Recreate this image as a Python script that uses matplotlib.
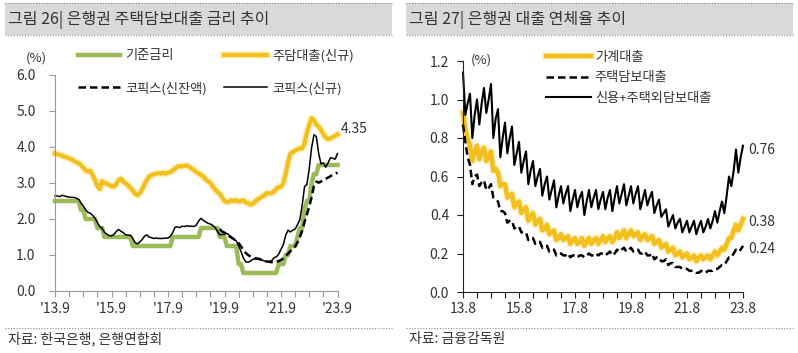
import matplotlib
matplotlib.use("Agg")
import matplotlib.pyplot as plt
import matplotlib.patheffects as pe
from matplotlib.lines import Line2D
from matplotlib.patches import Rectangle

plt.rcParams['font.family'] = ['Noto Sans CJK KR', 'DejaVu Sans']

W, H = 798, 353

# ---- left panel: 은행권 주택담보대출 금리 (monthly, 2013.9 -> 2023.9) ----
base_rate = [
    2.5, 2.5, 2.5, 2.5,
    2.5, 2.5, 2.5, 2.5, 2.5, 2.5, 2.5, 2.25, 2.25, 2.0, 2.0, 2.0,
    2.0, 2.0, 1.75, 1.75, 1.75, 1.5, 1.5, 1.5, 1.5, 1.5, 1.5, 1.5,
    1.5, 1.5, 1.5, 1.5, 1.5, 1.25, 1.25, 1.25, 1.25, 1.25, 1.25, 1.25,
    1.25, 1.25, 1.25, 1.25, 1.25, 1.25, 1.25, 1.25, 1.25, 1.25, 1.5, 1.5,
    1.5, 1.5, 1.5, 1.5, 1.5, 1.5, 1.5, 1.5, 1.5, 1.5, 1.75, 1.75,
    1.75, 1.75, 1.75, 1.75, 1.75, 1.75, 1.5, 1.5, 1.5, 1.25, 1.25, 1.25,
    1.25, 1.25, 0.75, 0.75, 0.5, 0.5, 0.5, 0.5, 0.5, 0.5, 0.5, 0.5,
    0.5, 0.5, 0.5, 0.5, 0.5, 0.5, 0.5, 0.75, 0.75, 0.75, 1.0, 1.0,
    1.25, 1.25, 1.25, 1.5, 1.75, 1.75, 2.25, 2.5, 2.5, 3.0, 3.25, 3.25,
    3.5, 3.5, 3.5, 3.5, 3.5, 3.5, 3.5, 3.5, 3.5,
]
mortgage_new = [
    3.82, 3.80, 3.78, 3.76,
    3.72, 3.72, 3.68, 3.66, 3.62, 3.58, 3.55, 3.50, 3.42, 3.36, 3.32, 3.34,
    3.22, 3.08, 2.92, 2.83, 3.05, 3.00, 2.98, 2.94, 2.91, 2.90, 2.96, 3.08,
    3.12, 3.04, 2.99, 2.94, 2.86, 2.80, 2.70, 2.66, 2.72, 2.82, 2.96, 3.08,
    3.18, 3.22, 3.24, 3.26, 3.27, 3.26, 3.29, 3.26, 3.29, 3.30, 3.35, 3.40,
    3.45, 3.47, 3.46, 3.48, 3.49, 3.45, 3.40, 3.36, 3.30, 3.27, 3.22, 3.18,
    3.10, 3.05, 3.00, 2.90, 2.82, 2.76, 2.70, 2.60, 2.50, 2.47, 2.48, 2.52,
    2.50, 2.52, 2.48, 2.50, 2.52, 2.46, 2.44, 2.40, 2.42, 2.48, 2.54, 2.58,
    2.62, 2.66, 2.72, 2.71, 2.72, 2.76, 2.84, 2.88, 2.90, 3.00, 3.26, 3.58,
    3.82, 3.86, 3.90, 3.94, 3.96, 3.96, 4.10, 4.40, 4.62, 4.80, 4.74, 4.62,
    4.56, 4.48, 4.36, 4.26, 4.22, 4.24, 4.28, 4.31, 4.35,
]
cofix_new = [
    2.64, 2.64, 2.62, 2.66,
    2.64, 2.62, 2.61, 2.60, 2.60, 2.58, 2.55, 2.45, 2.36, 2.26, 2.18, 2.16,
    2.10, 2.02, 1.90, 1.79, 1.74, 1.63, 1.58, 1.54, 1.53, 1.57, 1.65, 1.71,
    1.66, 1.62, 1.56, 1.55, 1.55, 1.47, 1.34, 1.31, 1.36, 1.43, 1.52, 1.56,
    1.50, 1.48, 1.46, 1.47, 1.46, 1.46, 1.46, 1.47, 1.47, 1.52, 1.62, 1.77,
    1.78, 1.76, 1.80, 1.79, 1.81, 1.80, 1.80, 1.79, 1.83, 1.94, 2.02, 1.96,
    1.92, 1.88, 1.86, 1.82, 1.76, 1.66, 1.56, 1.57, 1.58, 1.60, 1.55, 1.50,
    1.43, 1.39, 1.26, 1.10, 0.92, 0.81, 0.80, 0.83, 0.88, 0.89, 0.90, 0.90,
    0.86, 0.83, 0.82, 0.82, 0.84, 0.92, 0.95, 1.02, 1.16, 1.29, 1.55, 1.69,
    1.64, 1.69, 1.72, 1.84, 1.98, 2.38, 2.90, 2.96, 3.40, 3.98, 4.34, 4.29,
    3.82, 3.53, 3.56, 3.44, 3.56, 3.70, 3.69, 3.66, 3.82,
]
# 신잔액 COFIX starts 2019.7 (month index 70)
newbal_start = 70
cofix_newbal = [
    1.72, 1.65, 1.62, 1.58, 1.52, 1.48,
    1.44, 1.40, 1.33, 1.24, 1.14, 1.06, 1.00, 0.96, 0.93, 0.91, 0.90, 0.88,
    0.85, 0.83, 0.82, 0.81, 0.80, 0.80, 0.81, 0.83, 0.86, 0.91, 0.97, 1.04,
    1.11, 1.17, 1.24, 1.35, 1.50, 1.67, 1.92, 2.13, 2.34, 2.61, 2.92, 3.04,
    3.01, 3.04, 3.10, 3.12, 3.15, 3.19, 3.23, 3.25, 3.29,
]
left_xlabels = ["'13.9", "'15.9", "'17.9", "'19.9", "'21.9", "'23.9"]
left_yticks = [0, 1, 2, 3, 4, 5, 6]

# ---- right panel: 은행권 대출 연체율 (monthly, 2013.8 -> 2023.8) ----
household = [
    0.93, 0.85, 0.80, 0.76, 0.68,
    0.73, 0.76, 0.69, 0.73, 0.75, 0.68, 0.71, 0.73, 0.63, 0.64, 0.62, 0.55,
    0.56, 0.56, 0.49, 0.50, 0.51, 0.44, 0.46, 0.47, 0.41, 0.43, 0.44, 0.37,
    0.39, 0.41, 0.35, 0.37, 0.38, 0.32, 0.33, 0.35, 0.30, 0.31, 0.32, 0.27,
    0.28, 0.30, 0.27, 0.28, 0.29, 0.25, 0.27, 0.28, 0.25, 0.26, 0.28, 0.24,
    0.26, 0.28, 0.25, 0.27, 0.28, 0.25, 0.27, 0.29, 0.26, 0.28, 0.29, 0.26,
    0.28, 0.31, 0.28, 0.30, 0.32, 0.28, 0.30, 0.32, 0.29, 0.30, 0.31, 0.27,
    0.29, 0.30, 0.27, 0.28, 0.29, 0.25, 0.26, 0.27, 0.23, 0.24, 0.25, 0.21,
    0.22, 0.23, 0.19, 0.20, 0.21, 0.18, 0.19, 0.20, 0.17, 0.18, 0.19, 0.16,
    0.18, 0.19, 0.17, 0.18, 0.19, 0.17, 0.19, 0.21, 0.19, 0.21, 0.23, 0.22,
    0.25, 0.28, 0.28, 0.32, 0.35, 0.32, 0.35, 0.38,
]
mortgage_dlq = [
    0.87, 0.78, 0.70, 0.66, 0.56,
    0.60, 0.61, 0.55, 0.57, 0.58, 0.53, 0.54, 0.56, 0.49, 0.48, 0.47, 0.42,
    0.42, 0.41, 0.36, 0.37, 0.37, 0.33, 0.34, 0.34, 0.31, 0.31, 0.31, 0.27,
    0.28, 0.28, 0.25, 0.26, 0.26, 0.23, 0.24, 0.24, 0.21, 0.22, 0.22, 0.19,
    0.20, 0.20, 0.19, 0.19, 0.20, 0.18, 0.19, 0.19, 0.18, 0.19, 0.19, 0.18,
    0.19, 0.20, 0.19, 0.19, 0.20, 0.19, 0.20, 0.20, 0.19, 0.20, 0.21, 0.19,
    0.20, 0.22, 0.21, 0.22, 0.23, 0.21, 0.22, 0.23, 0.21, 0.22, 0.22, 0.20,
    0.20, 0.21, 0.19, 0.19, 0.20, 0.17, 0.18, 0.18, 0.16, 0.16, 0.17, 0.14,
    0.15, 0.15, 0.13, 0.13, 0.13, 0.12, 0.12, 0.12, 0.11, 0.11, 0.11, 0.10,
    0.10, 0.11, 0.10, 0.10, 0.11, 0.11, 0.11, 0.12, 0.12, 0.13, 0.14, 0.14,
    0.16, 0.18, 0.18, 0.20, 0.22, 0.21, 0.22, 0.24,
]
credit_other = [
    1.14, 0.92, 0.98, 1.03, 0.80,
    0.92, 1.00, 0.87, 0.98, 1.06, 0.93, 1.00, 1.08, 0.80, 0.90, 0.95, 0.70,
    0.80, 0.88, 0.72, 0.80, 0.86, 0.66, 0.72, 0.78, 0.62, 0.68, 0.73, 0.56,
    0.63, 0.68, 0.55, 0.60, 0.64, 0.50, 0.56, 0.60, 0.48, 0.53, 0.58, 0.44,
    0.50, 0.55, 0.46, 0.51, 0.55, 0.42, 0.48, 0.53, 0.44, 0.49, 0.52, 0.40,
    0.47, 0.53, 0.44, 0.49, 0.53, 0.43, 0.48, 0.52, 0.43, 0.49, 0.53, 0.42,
    0.49, 0.55, 0.46, 0.51, 0.56, 0.45, 0.50, 0.55, 0.46, 0.51, 0.55, 0.43,
    0.48, 0.53, 0.45, 0.49, 0.52, 0.41, 0.45, 0.48, 0.39, 0.41, 0.43, 0.34,
    0.37, 0.40, 0.33, 0.36, 0.38, 0.31, 0.34, 0.37, 0.31, 0.34, 0.37, 0.30,
    0.34, 0.37, 0.31, 0.34, 0.38, 0.33, 0.37, 0.42, 0.36, 0.42, 0.47, 0.41,
    0.50, 0.60, 0.55, 0.63, 0.74, 0.62, 0.70, 0.76,
]
right_xlabels = ["13.8", "15.8", "17.8", "19.8", "21.8", "23.8"]
right_yticks = [0.0, 0.2, 0.4, 0.6, 0.8, 1.0, 1.2]

GREEN = "#9bbb59"
GOLD = "#f3bf1c"
GLOW = [pe.Stroke(linewidth=5.5, foreground="#fcebb0", alpha=0.7), pe.Normal()]
TXT = "#333333"


def fx(x):
    return x / W


def fy(y):
    return 1 - y / H


fig = plt.figure(figsize=(W / 100, H / 100), dpi=100)

# headers and footers
for x0, x1, title, src in [(5, 392, "그림 26| 은행권 주택담보대출 금리 추이", "자료: 한국은행, 은행연합회"),
                           (406, 793, "그림 27| 은행권 대출 연체율 추이", "자료: 금융감독원")]:
    fig.patches.append(Rectangle((fx(x0), fy(35)), (x1 - x0) / W, 32 / H, transform=fig.transFigure,
                                 facecolor="#d9d9d9", edgecolor="none"))
    for yy in (3, 35, 328):
        fig.add_artist(Line2D([fx(x0), fx(x1)], [fy(yy), fy(yy)], color="#8c8c8c", lw=0.8,
                              ls=(0, (1, 1.5))))
    fig.text(fx(x0 + 3), fy(20), title, fontsize=11.5, va="center", color=TXT)
    fig.text(fx(x0 + 3), fy(339), src, fontsize=10, va="center", color=TXT)

# ---- left chart ----
ax1 = fig.add_axes([fx(55), fy(291), (337.5 - 55) / W, (291 - 75) / H])
months_l = list(range(len(mortgage_new)))
l_green, = ax1.plot(months_l, base_rate, color=GREEN, lw=3.2, clip_on=False)
l_gold, = ax1.plot(months_l, mortgage_new, color=GOLD, lw=3.0, clip_on=False, path_effects=GLOW)
l_dash, = ax1.plot(list(range(newbal_start, newbal_start + len(cofix_newbal))), cofix_newbal,
                   color="black", lw=1.8, ls=(0, (3, 1.6)), clip_on=False)
l_solid, = ax1.plot(months_l, cofix_new, color="black", lw=1.1, clip_on=False)
ax1.set_xlim(0, 120)
ax1.set_ylim(0, 6)
ax1.set_xticks(range(0, 121, 6))
ax1.set_xticklabels([left_xlabels[i // 4] if i % 4 == 0 else "" for i in range(21)])
ax1.set_yticks(left_yticks)
ax1.set_yticklabels([f"{v:.1f}" for v in left_yticks])
ax1.annotate(f"{mortgage_new[-1]:.2f}", (120, mortgage_new[-1]), xytext=(2, 4),
             textcoords="offset points", fontsize=10, color=TXT, va="center")
ax1.legend([l_green, l_dash, l_gold, l_solid],
           ["기준금리", "코픽스(신잔액)", "주담대출(신규)", "코픽스(신규)"],
           ncol=2, loc="upper left", bbox_to_anchor=(fx(78), fy(49)), bbox_transform=fig.transFigure,
           frameon=False, borderpad=0, borderaxespad=0, fontsize=9.5, handlelength=3.2,
           handletextpad=0.4, columnspacing=1.3, labelspacing=1.45, labelcolor=TXT)
fig.text(fx(26), fy(58), "(%)", fontsize=9.5, va="center", color=TXT)
for s in ("top", "right"):
    ax1.spines[s].set_visible(False)
for s in ("left", "bottom"):
    ax1.spines[s].set_color("#9a9a9a")
ax1.tick_params(axis="x", length=4, color="#9a9a9a", labelsize=10, labelcolor=TXT, pad=4)
ax1.tick_params(axis="y", length=4, color="#9a9a9a", labelsize=10, labelcolor=TXT, pad=10)

# ---- right chart ----
ax2 = fig.add_axes([fx(463), fy(292), 280 / W, 231 / H])
months_r = list(range(len(household)))
r_gold, = ax2.plot(months_r, household, color=GOLD, lw=3.2, clip_on=False, path_effects=GLOW)
r_dash, = ax2.plot(months_r, mortgage_dlq, color="black", lw=1.8, ls=(0, (3, 1.6)), clip_on=False)
r_solid, = ax2.plot(months_r, credit_other, color="black", lw=1.5, clip_on=False)
ax2.set_xlim(0, 120)
ax2.set_ylim(0, 1.2)
ax2.set_xticks(range(0, 121, 6))
ax2.set_xticklabels([right_xlabels[i // 4] if i % 4 == 0 else "" for i in range(21)])
ax2.set_yticks(right_yticks)
ax2.set_yticklabels([f"{v:.1f}" for v in right_yticks])
for series, dy in [(credit_other, -3), (household, -2), (mortgage_dlq, -2)]:
    ax2.annotate(f"{series[-1]:.2f}", (120, series[-1]), xytext=(4, dy),
                 textcoords="offset points", fontsize=10, color=TXT, va="center")
ax2.legend([r_gold, r_dash, r_solid], ["가계대출", "주택담보대출", "신용+주택외담보대출"],
           loc="upper left", bbox_to_anchor=(fx(546), fy(51)), bbox_transform=fig.transFigure,
           frameon=False, borderpad=0, borderaxespad=0, fontsize=9.5, handlelength=3.4,
           handletextpad=0.3, labelspacing=0.55, labelcolor=TXT)
fig.text(fx(471), fy(60), "(%)", fontsize=9.5, va="center", color=TXT)
for s in ("top", "right"):
    ax2.spines[s].set_visible(False)
for s in ("left", "bottom"):
    ax2.spines[s].set_color("#222222")
ax2.tick_params(axis="x", length=4, color="#222222", labelsize=10, labelcolor=TXT, pad=3)
ax2.tick_params(axis="y", length=4, color="#222222", labelsize=10, labelcolor=TXT, pad=6)

fig.savefig("out.png", dpi=100)
